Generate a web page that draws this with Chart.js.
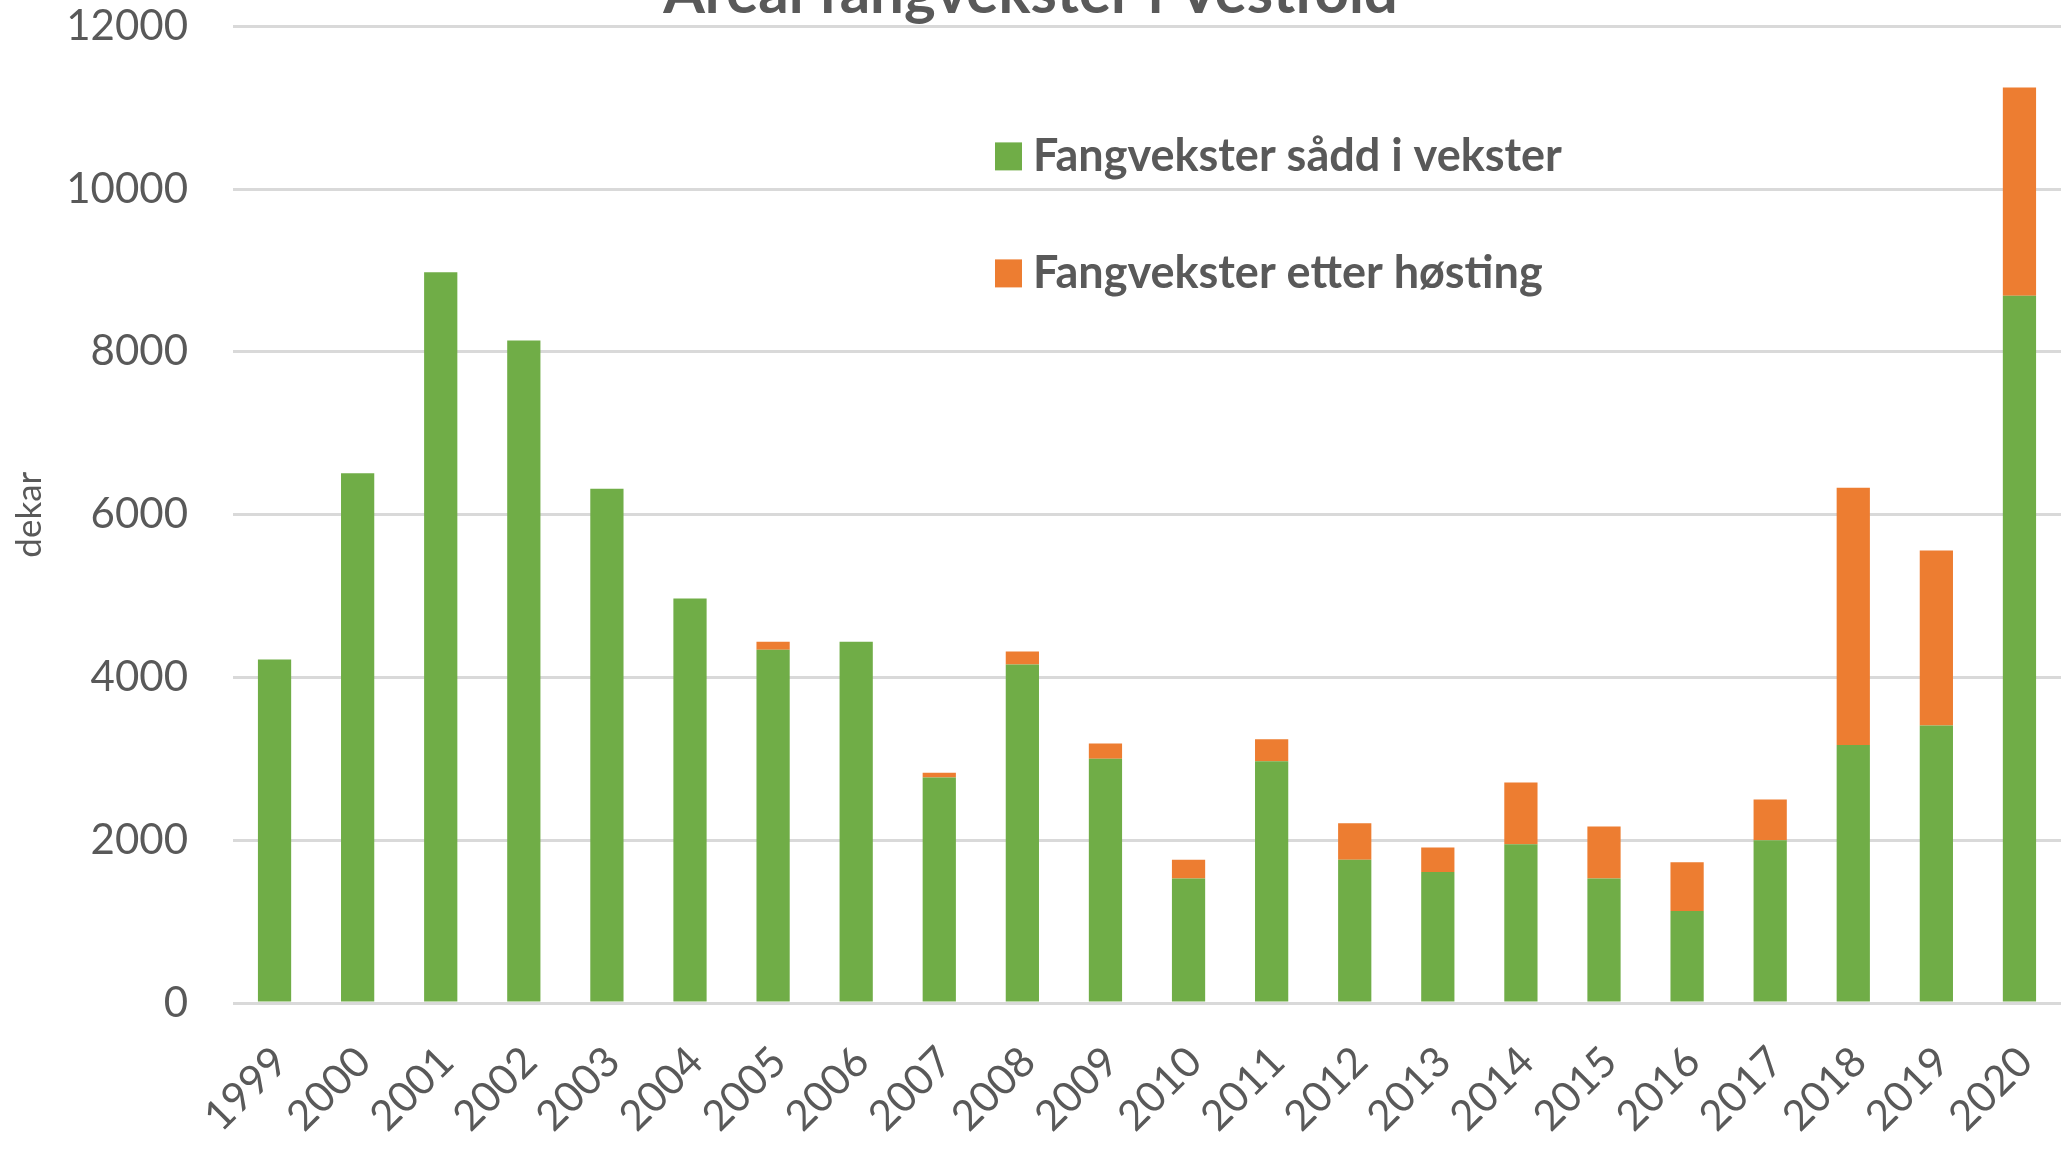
<!DOCTYPE html>
<html>
<head>
<meta charset="utf-8">
<title>Areal fangvekster i Vestfold</title>
<script src="https://cdn.jsdelivr.net/npm/chart.js@4.4.1/dist/chart.umd.min.js"></script>
<style>
  html, body { margin: 0; padding: 0; background: #fff; overflow: hidden; }
  /* canvas is pushed up a bit so the title is cut off like in the original */
  #wrap { position: absolute; left: 0; top: -60px; width: 2067px; height: 1211px; }
</style>
</head>
<body>
<div id="wrap"><canvas id="mycanvas"></canvas></div>
<script>
// data (dekar)
var years = ['1999', '2000', '2001', '2002', '2003', '2004', '2005', '2006', '2007', '2008', '2009',
             '2010', '2011', '2012', '2013', '2014', '2015', '2016', '2017', '2018', '2019', '2020'];
var saddIVekster = [4220, 6510, 8980, 8140, 6320, 4970, 4340, 4440, 2770, 4160, 3000,
                    1530, 2970, 1760, 1610, 1950, 1530, 1130, 2000, 3170, 3410, 8690];
var etterHosting = [0, 0, 0, 0, 0, 0, 100, 0, 60, 160, 190,
                    230, 270, 450, 300, 760, 640, 600, 500, 3160, 2150, 2560];
var seriesNames = ['Fangvekster sådd i vekster', 'Fangvekster etter høsting'];
var yMin = 0, yMax = 12000, yStep = 2000;

var grey = '#595959';

// legend sits inside the plot, so it is drawn here instead of the normal legend box
var insideLegend = {
    id: 'insideLegend',
    afterDraw: function (chart) {
        var ctx = chart.ctx;
        var top = chart.chartArea.top + 130;
        var x = 995;
        ctx.save();
        ctx.font = 'bold 45px Lato';
        ctx.textBaseline = 'middle';
        ctx.textAlign = 'left';
        chart.data.datasets.forEach(function (ds, i) {
            var y = top + i * 117;
            ctx.fillStyle = ds.backgroundColor;
            ctx.fillRect(x, y - 14, 27, 28);
            ctx.fillStyle = grey;
            ctx.fillText(ds.label, x + 38, y);
        });
        ctx.restore();
    }
};

function drawChart() {
    var chardata = {
        labels: years,
        datasets: [
            {
                label: seriesNames[0],
                backgroundColor: '#70AD47',
                data: saddIVekster
            },
            {
                label: seriesNames[1],
                backgroundColor: '#ED7D31',
                data: etterHosting
            }
        ]
    };

    var ctx = document.getElementById('mycanvas');
    new Chart(ctx, {
        type: 'bar',
        data: chardata,
        plugins: [insideLegend],
        options: {
            responsive: true,
            maintainAspectRatio: false,
            devicePixelRatio: 1,
            animation: false,
            layout: { padding: { left: 0, right: 6, top: 0, bottom: 0 } },
            datasets: {
                bar: { barPercentage: 0.4, categoryPercentage: 1.0, borderWidth: 0 }
            },
            plugins: {
                legend: { display: false },
                tooltip: { enabled: false },
                title: {
                    display: true,
                    text: 'Areal fangvekster i Vestfold',
                    color: grey,
                    font: { family: 'Lato', size: 60, weight: 'bold', lineHeight: 1.09 },
                    padding: { top: 21, bottom: 0 }
                }
            },
            scales: {
                x: {
                    stacked: true,
                    grid: { display: false, drawTicks: false },
                    border: { display: false },
                    ticks: {
                        color: grey,
                        font: { family: 'Lato', size: 42 },
                        minRotation: 45,
                        maxRotation: 45,
                        autoSkip: false,
                        padding: 34,
                        labelOffset: 6
                    },
                    afterFit: function (scale) {
                        scale.height = 148;
                        // rotated labels only hang to the left, keep the plot wide to the right
                        scale.paddingRight = 0;
                        scale.paddingLeft = 0;
                    }
                },
                y: {
                    stacked: true,
                    min: yMin,
                    max: yMax,
                    grid: { color: '#D9D9D9', lineWidth: 3, drawTicks: false },
                    border: { display: false },
                    ticks: {
                        stepSize: yStep,
                        color: grey,
                        font: { family: 'Lato', size: 42 },
                        padding: 45,
                        callback: function (value) { return String(value); }
                    },
                    title: {
                        display: true,
                        text: 'dekar',
                        color: grey,
                        font: { family: 'Lato', size: 35 },
                        padding: { top: 9, bottom: 0 }
                    },
                    afterFit: function (scale) { scale.width = 233; }
                }
            }
        }
    });
}

if (document.fonts && document.fonts.load) {
    Promise.all([
        document.fonts.load('bold 60px Lato'),
        document.fonts.load('42px Lato')
    ]).then(drawChart, drawChart);
} else {
    drawChart();
}
</script>
</body>
</html>
